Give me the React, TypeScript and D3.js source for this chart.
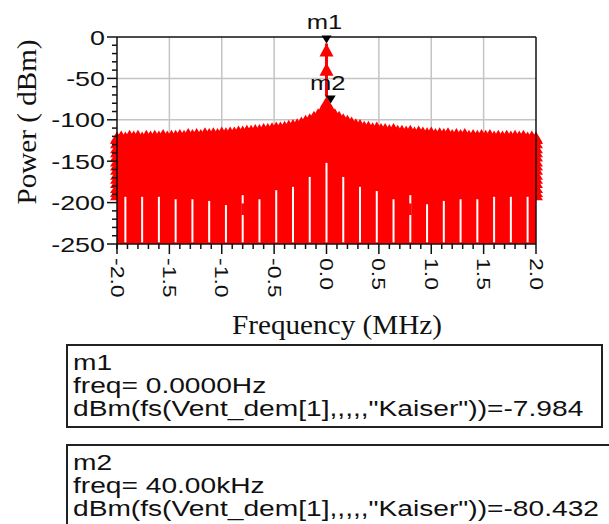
import React from "react";
import * as d3 from "d3";

// spectrum tones, 40 kHz apart, from -2.0 to 2.0 MHz (dBm)
const leftLevels = [
  -114, -113, -114, -112, -113, -112, -114, -112, -113, -112,
  -113, -111, -113, -112, -112, -111, -112, -110, -111, -110,
  -111, -109, -110, -109, -110, -108, -109, -108, -108, -107,
  -107, -106, -106, -105, -105, -104, -104, -103, -102, -102,
  -101, -100, -99, -98, -96, -94, -92, -89, -86, -81,
];
const centerLevel = -72;
const rightLevels = [
  -80.4, -86, -89, -92, -94, -96, -98, -99, -101, -101,
  -103, -102, -104, -104, -105, -104, -106, -106, -107, -106,
  -108, -107, -108, -109, -108, -110, -109, -110, -109, -111,
  -110, -111, -110, -112, -111, -112, -111, -112, -111, -113,
  -112, -113, -112, -113, -112, -113, -112, -114, -113, -114,
];
const toneLevels = [...leftLevels, centerLevel, ...rightLevels];
const toneStep = 0.04;

// DC spike points
const spikeLevels = [-7.984, -31];

// trace points stacked at the band edges
const edgeFreqs = [-2, 2];
const edgeLevels = [-116, -121, -127, -132, -137, -143, -148, -153, -159, -164, -169, -175, -180, -184];

// white gaps in the noise floor (every 160 kHz)
const gapFreqs = [
  -1.92, -1.76, -1.6, -1.44, -1.28, -1.12, -0.96, -0.8, -0.64, -0.48, -0.32, -0.16,
  0, 0.16, 0.32, 0.48, 0.64, 0.8, 0.96, 1.12, 1.28, 1.44, 1.6, 1.76, 1.92,
];
const gapTops = [
  -193, -193, -193, -196, -196, -198, -203, -191, -196, -185, -181, -169,
  -152, -169, -181, -186, -196, -191, -202, -198, -196, -196, -193, -193, -193,
];
const gapBreaks = [
  { f: -0.8, from: -201, to: -215 },
  { f: 0.8, from: -201, to: -215 },
];

const xTicks = [-2, -1.5, -1, -0.5, 0, 0.5, 1, 1.5, 2];
const xTickLabels = ["-2.0", "-1.5", "-1.0", "-0.5", "0.0", "0.5", "1.0", "1.5", "2.0"];
const yTicks = [0, -50, -100, -150, -200, -250];

const markers = [
  { name: "m1", f: 0, v: -7.984, freq: "0.0000Hz", value: "-7.984" },
  { name: "m2", f: 0.04, v: -80.432, freq: "40.00kHz", value: "-80.432" },
];

const sans = "'Liberation Sans', Arial, sans-serif";
const serif = "'Liberation Serif', 'Times New Roman', serif";
const stretch = 1.28;

const App = () => {
  const width = 609;
  const height = 524;
  const marginLeft = 117;
  const marginRight = 73;
  const marginTop = 37;
  const plotBottom = 244;

  const x = d3.scaleLinear().domain([-2, 2]).range([marginLeft, width - marginRight]);
  const y = d3.scaleLinear().domain([-250, 0]).range([plotBottom, marginTop]);

  const tones = toneLevels.map((v, i) => ({ f: (i - 50) * toneStep, v }));

  const area = d3
    .area<{ f: number; v: number }>()
    .x((d) => x(d.f))
    .y0(y(-250))
    .y1((d) => y(d.v) + 6);

  const tri = (cx: number, cy: number, w: number, h: number) =>
    `M${cx},${cy} l${w / 2},${h} l${-w},0 Z`;

  const triDown = (cx: number, cy: number, w: number, h: number) =>
    `M${cx},${cy} l${w / 2},${-h} l${-w},0 Z`;

  const boxTop = [345, 445];

  return (
    <svg
      width={width}
      height={height}
      style={{ position: "absolute", left: 0, top: 0, background: "#fff" }}
    >
      {/* grid */}
      <g stroke="#c4c4c4" strokeWidth={1.5}>
        {xTicks.slice(1, -1).map((t) => (
          <line key={"gx" + t} x1={x(t)} x2={x(t)} y1={y(0)} y2={y(-250)} />
        ))}
        {yTicks.slice(1, -1).map((t) => (
          <line key={"gy" + t} x1={x(-2)} x2={x(2)} y1={y(t)} y2={y(t)} />
        ))}
      </g>

      {/* spectrum */}
      <g fill="#ff0000">
        <path d={area(tones) || ""} />
        {tones.map((d, i) => (
          <path key={"t" + i} d={tri(x(d.f), y(d.v), 13, 11)} />
        ))}
        {edgeFreqs.map((f) =>
          edgeLevels.map((v) => <path key={"e" + f + v} d={tri(x(f), y(v), 14, 11)} />)
        )}
        <line
          x1={x(0)}
          x2={x(0)}
          y1={y(spikeLevels[0])}
          y2={y(centerLevel)}
          stroke="#ff0000"
          strokeWidth={3}
        />
        {spikeLevels.map((v) => (
          <path key={"s" + v} d={tri(x(0), y(v), 14, 13)} />
        ))}
      </g>

      {/* gaps */}
      <g stroke="#fff" strokeWidth={2}>
        {gapFreqs.map((f, i) => (
          <line key={"g" + i} x1={x(f)} x2={x(f)} y1={y(gapTops[i])} y2={y(-248)} />
        ))}
      </g>
      <g stroke="#ff0000" strokeWidth={2.5}>
        {gapBreaks.map((b) => (
          <line key={"b" + b.f} x1={x(b.f)} x2={x(b.f)} y1={y(b.from)} y2={y(b.to)} />
        ))}
      </g>

      {/* frame */}
      <g stroke="#111" strokeWidth={1.5} fill="none">
        <line x1={x(-2)} x2={x(2)} y1={y(0)} y2={y(0)} />
        <line x1={x(2)} x2={x(2)} y1={y(0)} y2={y(-250)} />
        <line x1={x(-2)} x2={x(2)} y1={y(-250)} y2={y(-250)} />
        <line x1={x(-2)} x2={x(-2)} y1={y(0)} y2={y(-250) + 5} />
      </g>

      {/* y axis ticks */}
      <g stroke="#111" strokeWidth={1.5}>
        {y.ticks(25).map((t) => (
          <line
            key={"yt" + t}
            x1={x(-2) - (t % 50 === 0 ? 10 : 5)}
            x2={x(-2)}
            y1={y(t)}
            y2={y(t)}
          />
        ))}
        {x.ticks(40).map((t) => (
          <line
            key={"xt" + t}
            x1={x(t)}
            x2={x(t)}
            y1={y(-250)}
            y2={y(-250) + (Math.abs(Math.round(t * 10)) % 5 === 0 ? 10 : 5)}
          />
        ))}
      </g>

      <g fontFamily={sans} fontSize={21} fill="#111">
        {yTicks.map((t) => (
          <text
            key={"yl" + t}
            transform={`translate(${x(-2) - 12},${y(t)}) scale(${stretch},1)`}
            textAnchor="end"
            dy="0.36em"
          >
            {t}
          </text>
        ))}
      </g>
      <g fontFamily={sans} fontSize={18} fill="#111">
        {xTicks.map((t, i) => (
          <text
            key={"xl" + t}
            transform={`translate(${x(t)},${y(-250) + 14}) rotate(90) scale(${stretch},1)`}
            textAnchor="start"
            dy="0.36em"
          >
            {xTickLabels[i]}
          </text>
        ))}
      </g>

      {/* axis titles */}
      <text
        x={337}
        y={334}
        fontFamily={serif}
        fontSize={28}
        textAnchor="middle"
        textLength={210}
        lengthAdjust="spacingAndGlyphs"
        fill="#111"
      >
        Frequency (MHz)
      </text>
      <text
        transform={`translate(36,${122}) rotate(-90)`}
        fontFamily={serif}
        fontSize={27}
        textAnchor="middle"
        textLength={165}
        lengthAdjust="spacingAndGlyphs"
        fill="#111"
      >
        Power ( dBm)
      </text>

      {/* markers */}
      {markers.map((m, i) => (
        <g key={m.name}>
          <path d={triDown(x(m.f), y(m.v), 10, 8)} fill="#000" />
          <text
            transform={`translate(${x(m.f) - (i === 0 ? 2 : 3)},${i === 0 ? 29 : 90}) scale(${stretch},1)`}
            fontFamily={sans}
            fontSize={20}
            textAnchor="middle"
            fill="#111"
          >
            {m.name}
          </text>
        </g>
      ))}

      {/* marker readouts */}
      {markers.map((m, i) => (
        <g key={"box" + m.name} fontFamily={sans} fontSize={22} fill="#111">
          <rect
            x={67}
            y={boxTop[i]}
            width={i === 0 ? 535 : 560}
            height={i === 0 ? 82 : 100}
            fill="#fff"
            stroke="#222"
            strokeWidth={2}
          />
          <text transform={`translate(73,${boxTop[i] + 25}) scale(${stretch},1)`}>{m.name}</text>
          <text transform={`translate(73,${boxTop[i] + 48}) scale(${stretch},1)`}>
            {"freq= " + m.freq}
          </text>
          <text transform={`translate(73,${boxTop[i] + 71}) scale(${stretch},1)`}>
            {'dBm(fs(Vent_dem[1],,,,,"Kaiser"))=' + m.value}
          </text>
        </g>
      ))}
    </svg>
  );
};

export default App;
